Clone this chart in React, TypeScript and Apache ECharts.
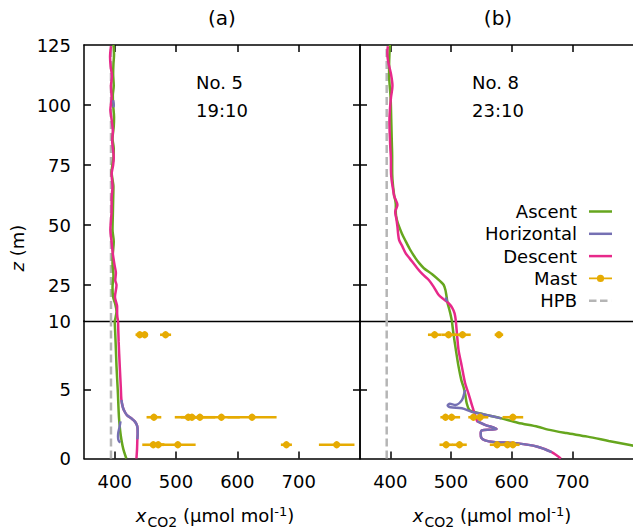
import React, { useEffect, useRef } from 'react';
import * as echarts from 'echarts';

type P = [number, number];
type M = [number, number, number];

// ---------- axis ticks ----------
const X_MIN = 350;
const X_MAX = 800;
const xTicks = [400, 500, 600, 700];
const zUpperTicks = [25, 50, 75, 100];
const zUpperLabels = [25, 50, 75, 100, 125];
const zLowerTicks = [5];
const zLowerLabels = [0, 5, 10];
const seriesNames = ['Ascent', 'Horizontal', 'Descent', 'Mast', 'HPB'];
const hpbValue = 394;

// ---------- panel (a): flight No. 5, 19:10 ----------
const ascentAUp: P[] = [[398,125],[399,121],[398,117],[397.5,113],[398.5,108],[397,104],[397.5,100],[399,95],[398.5,91],[396.5,86],[398.5,82],[398,78],[395,72],[396.5,69],[398,66],[397.5,60],[397,54],[396.5,48],[398.5,43],[397,38],[396.5,34],[398,29],[396.5,24],[397.5,20],[401,17],[403,14],[401.5,11.5],[400,10]];
const descentAUp: P[] = [[394,124.5],[392.5,120],[393.5,116],[395.5,112],[394,108],[395,103],[393,98],[395,94],[397,89],[396,85],[398.5,78],[397.5,75],[395,71],[396.5,66],[395,61],[395,56],[394,52],[393,48],[395,43],[397,38],[400,33],[402,30],[401,27],[403,25],[400.5,20],[404,16],[404,13],[405.5,10]];
const horizAUp: P[] = [[397.5,102],[398.5,100],[398,99]];
const ascentALow: P[] = [[400,10],[401.5,8.5],[403,6.7],[405,5],[407,3],[409,2],[411,1.36],[414,0.7],[419,0]];
const descentALow: P[] = [[405.5,10],[406.5,8.5],[408.3,6.7],[410,5.2],[411,4.25],[413.5,3.7],[416.4,3.4],[420,3.15],[424.6,3.0],[429,2.85],[432.7,2.7],[436,2.45],[437.3,2.2],[437.5,1.8],[437,1.4],[436.5,0.7],[435.5,0]];
const horizALow1: P[] = [[411,4.25],[413.5,3.7],[416.4,3.4],[420,3.15],[424.6,3.0],[429,2.85],[432.7,2.7],[436,2.45],[437.3,2.2],[437.5,1.8],[437,1.4]];
const horizALow2: P[] = [[409.5,2.7],[408,2.3],[406,1.9],[405.5,1.6],[406.5,1.3],[409,1.15]];
// mast: [value, height, error]
const mastA: M[] = [[441,9,7],[449,9,5],[483,9,9],[464,3,12],[520,3,22],[526,3,18],[539,3,25],[574,3,30],[624,3,40],[463,1,18],[471,1,10],[503,1,29],[680,1,9],[762,1,29]];

// ---------- panel (b): flight No. 8, 23:10 ----------
const ascentBUp: P[] = [[399.5,125],[398.5,121],[398,117],[398,112],[399,108],[400.5,103],[401,99],[401.5,94],[402,89],[402.5,84],[403,79],[403,74],[403.5,69],[406,63],[409,58.5],[409,55],[411,52],[414.5,49.3],[419,46.5],[424.3,43.75],[432,40],[441.7,36.1],[448,34],[455.3,32],[469,29.5],[482.5,26.5],[488,25],[490.7,23],[492.3,20.8],[494.4,17.4],[497,15],[498.8,13.2],[501.5,10]];
const descentBUp: P[] = [[396,124.5],[395,122],[396.5,118],[401,113],[403.5,108],[401,103],[399.3,98],[398.5,93],[399,88],[400,82],[401,77],[401,73],[402,69],[405,64],[406.3,62],[411.7,58.3],[408,55.5],[410,52.5],[411.7,49.3],[413,46],[414.5,43.75],[420,41],[425.4,38.2],[431.9,36.1],[444.4,32],[453,29.5],[463.4,27.1],[472,24],[479.8,20.8],[488,19],[496,17.4],[502,15.5],[505.9,13.2],[508,10]];
const horizBUp: P[] = [[491.5,19.8],[493.4,18.2]];
const ascentBLow: P[] = [[501.5,10],[504,9.1],[508,7.9],[512.4,6.7],[517,5.7],[520.6,5.2],[523.3,4.7],[526,4.0],[530,3.55],[537,3.4],[560,3.15],[583,2.92],[610,2.6],[643,2.31],[660,2.1],[690,1.85],[725,1.59],[760,1.28],[795,0.98],[810,0.85]];
const descentBLow: P[] = [[508,10],[510,9],[512.4,7.9],[517.8,6.7],[523.3,5.47],[528.7,4.74],[533,4.1],[537,3.53],[542.4,2.8],[543,2.72],[556,2.45],[575,2.15],[565,2.1],[551,2.05],[549,1.8],[550,1.5],[556,1.32],[570,1.2],[610,1.1],[642.6,0.86],[666,0.47],[681,0]];
const horizBLow1: P[] = [[523,4.98],[518,4.25],[507,3.9],[498,3.98],[494.5,3.85],[499,3.72],[518,3.65],[534,3.4],[560,3.15],[583,2.92]];
const horizBLow2: P[] = [[543,2.72],[556,2.45],[575,2.15],[565,2.1],[551,2.05],[549,1.8],[550,1.5],[556,1.32],[570,1.2],[610,1.1],[642.6,0.86],[666,0.47]];
const mastB: M[] = [[473,9,11],[496,9,12],[519,9,13.5],[579,9,7],[491,3,8.5],[501,3,14],[537,3,8.5],[548,3,13.5],[602,3,17],[492,1,11],[514,1,12],[576,1,12],[593,1,10],[602,1,11]];

// HPB reference profile
const hpbUp: P[] = [[hpbValue,10],[hpbValue,125]];
const hpbLow: P[] = [[hpbValue,0],[hpbValue,10]];

const FONT = "'DejaVu Sans', sans-serif";
const C_ASC = '#66a61e';
const C_HOR = '#7570b3';
const C_DES = '#e7298a';
const C_MAST = '#e6ab02';
const C_HPB = '#b5b5b5';
const AXIS = '#000';

const ICON_LINE = 'path://M0,0 L23,0 L23,2.5 L0,2.5 Z';
const ICON_MAST = 'path://M0,2.6 L23,2.6 L23,4.4 L0,4.4 Z M15.1,3.5 A3.6,3.6 0 1 1 7.9,3.5 A3.6,3.6 0 1 1 15.1,3.5 Z';
const ICON_DASH = 'path://M0,0 L7.5,0 L7.5,2.5 L0,2.5 Z M11,0 L18.5,0 L18.5,2.5 L11,2.5 Z M22.95,0 L23,0 L23,2.5 L22.95,2.5 Z';

export default function App() {
  const ref = useRef<HTMLDivElement>(null);
  useEffect(() => {
    const chart = echarts.init(ref.current!, null, { renderer: 'svg' });
    const PA = 84, PB = 360, PW = 276, TOP = 45, UH = 276, LH = 137.5;
    const grid = [
      { left: PA, top: TOP, width: PW, height: UH },
      { left: PA, top: TOP + UH, width: PW, height: LH },
      { left: PB, top: TOP, width: PW, height: UH },
      { left: PB, top: TOP + UH, width: PW, height: LH },
    ];
    const axLine = (w = 1.5) => ({ show: true, onZero: false, lineStyle: { color: AXIS, width: w } });
    const tickIn = (vals: number[]) => ({ show: true, inside: true, length: 7, customValues: vals, lineStyle: { color: AXIS, width: 1.5 } });
    const noTick = { show: false };
    const noLabel = { show: false };
    const lbl = (vals: number[], margin: number) => ({ show: true, customValues: vals, fontFamily: FONT, fontSize: 18, color: '#000', margin });
    const xAx = (gridIndex: number, position: string, o: any) => ({
      type: 'value', gridIndex, position, min: X_MIN, max: X_MAX,
      splitLine: { show: false }, axisLine: axLine(), axisTick: noTick, axisLabel: noLabel, ...o,
    });
    const yAx = (gridIndex: number, position: string, min: number, max: number, o: any) => ({
      type: 'value', gridIndex, position, min, max,
      splitLine: { show: false }, axisLine: axLine(), axisTick: noTick, axisLabel: noLabel, ...o,
    });
    const xAxis = [
      xAx(0, 'top', { axisTick: tickIn(xTicks) }),
      xAx(1, 'bottom', { axisTick: tickIn(xTicks), axisLabel: lbl(xTicks, 14) }),
      xAx(1, 'top', { axisLine: axLine(1.3) }),
      xAx(2, 'top', { axisTick: tickIn(xTicks) }),
      xAx(3, 'bottom', { axisTick: tickIn(xTicks), axisLabel: lbl(xTicks, 14) }),
      xAx(3, 'top', { axisLine: axLine(1.3) }),
    ];
    const yAxis = [
      yAx(0, 'left', 10, 125, { axisTick: tickIn(zUpperTicks), axisLabel: lbl(zUpperLabels, 13) }),
      yAx(0, 'right', 10, 125, { axisTick: tickIn(zUpperTicks) }),
      yAx(1, 'left', 0, 10, { axisTick: tickIn(zLowerTicks), axisLabel: lbl(zLowerLabels, 13) }),
      yAx(1, 'right', 0, 10, { axisTick: tickIn(zLowerTicks) }),
      yAx(2, 'left', 10, 125, { axisTick: tickIn(zUpperTicks) }),
      yAx(3, 'left', 0, 10, { axisTick: tickIn(zLowerTicks) }),
    ];
    const ln = (name: string, data: P[], xi: number, yi: number, color: string, z: number, extra: any = {}) => ({
      type: 'line', name, data, xAxisIndex: xi, yAxisIndex: yi, symbol: 'none', showSymbol: false,
      smooth: 0.3, lineStyle: { color, width: 2.5 }, itemStyle: { color }, z, ...extra,
    });
    const hpbStyle = { smooth: false, lineStyle: { color: C_HPB, width: 2.5, type: [8, 4] } };
    const mast = (data: M[], xi: number, yi: number) => ({
      type: 'custom', name: 'Mast', data, xAxisIndex: xi, yAxisIndex: yi, z: 5,
      itemStyle: { color: C_MAST }, encode: { x: 0, y: 1 },
      renderItem: (_p: any, api: any) => {
        const x = api.value(0), zv = api.value(1), e = api.value(2);
        const a = api.coord([x - e, zv]);
        const b = api.coord([x + e, zv]);
        const c = api.coord([x, zv]);
        return {
          type: 'group',
          children: [
            { type: 'line', shape: { x1: a[0], y1: a[1], x2: b[0], y2: b[1] }, style: { stroke: C_MAST, lineWidth: 2.6 } },
            { type: 'circle', shape: { cx: c[0], cy: c[1], r: 3.6 }, style: { fill: C_MAST } },
          ],
        };
      },
    });
    const [nAsc, nHor, nDes, nMast, nHpb] = seriesNames;
    const series = [
      // panel a upper
      ln(nHpb, hpbUp, 0, 0, C_HPB, 1, hpbStyle),
      ln(nAsc, ascentAUp, 0, 0, C_ASC, 2),
      ln(nDes, descentAUp, 0, 0, C_DES, 3),
      ln(nHor, horizAUp, 0, 0, C_HOR, 4),
      // panel a lower
      ln(nHpb, hpbLow, 1, 2, C_HPB, 1, hpbStyle),
      ln(nAsc, ascentALow, 1, 2, C_ASC, 2),
      ln(nDes, descentALow, 1, 2, C_DES, 3),
      ln(nHor, horizALow1, 1, 2, C_HOR, 4),
      ln(nHor, horizALow2, 1, 2, C_HOR, 4),
      mast(mastA, 1, 2),
      // panel b upper
      ln(nHpb, hpbUp, 3, 4, C_HPB, 1, hpbStyle),
      ln(nAsc, ascentBUp, 3, 4, C_ASC, 2),
      ln(nDes, descentBUp, 3, 4, C_DES, 3),
      ln(nHor, horizBUp, 3, 4, C_HOR, 4),
      // panel b lower
      ln(nHpb, hpbLow, 4, 5, C_HPB, 1, hpbStyle),
      ln(nAsc, ascentBLow, 4, 5, C_ASC, 2),
      ln(nDes, descentBLow, 4, 5, C_DES, 3),
      ln(nHor, horizBLow1, 4, 5, C_HOR, 4),
      ln(nHor, horizBLow2, 4, 5, C_HOR, 4),
      mast(mastB, 4, 5),
    ];
    const xName = (cx: number) => ({
      type: 'text', x: cx, y: 515.5,
      style: {
        text: '{i|x}{s|CO2}{n| (µmol mol}{p|-1}{n|)}',
        align: 'center', verticalAlign: 'middle', fill: '#000', fontFamily: FONT, fontSize: 18,
        rich: {
          i: { fontFamily: FONT, fontSize: 18, fontStyle: 'italic', fill: '#000' },
          s: { fontFamily: FONT, fontSize: 14, padding: [13, 0, 0, 1], fill: '#000' },
          n: { fontFamily: FONT, fontSize: 18, fill: '#000' },
          p: { fontFamily: FONT, fontSize: 13, padding: [0, 0, 8, 0], fill: '#000' },
        },
      },
    });
    const txt = (text: string, x: number, y: number, size = 18, align = 'left') => ({
      type: 'text', x, y, style: { text, fontFamily: FONT, fontSize: size, fill: '#000', align, verticalAlign: 'middle' },
    });
    chart.setOption({
      animation: false,
      grid,
      xAxis,
      yAxis,
      series,
      legend: {
        data: [
          { name: nAsc, icon: ICON_LINE },
          { name: nHor, icon: ICON_LINE },
          { name: nDes, icon: ICON_LINE },
          { name: nMast, icon: ICON_MAST },
          { name: nHpb, icon: ICON_DASH },
        ],
        orient: 'vertical', align: 'right', right: 21, top: 202.5, padding: 0,
        itemWidth: 23, itemHeight: 14, itemGap: 4.3, selectedMode: false,
        itemStyle: { borderWidth: 0 },
        textStyle: { fontFamily: FONT, fontSize: 18, color: '#000', lineHeight: 18, padding: [0, 7, 0, 0] },
      },
      graphic: [
        txt('(a)', 222, 18, 20, 'center'),
        txt('(b)', 498, 18, 20, 'center'),
        txt('No. 5', 196, 82),
        txt('19:10', 196, 110),
        txt('No. 8', 472, 82),
        txt('23:10', 472, 110),
        xName(215),
        xName(492),
        {
          type: 'text', x: 17, y: 248, rotation: Math.PI / 2,
          style: {
            text: '{i|z}{n| (m)}', align: 'center', verticalAlign: 'middle', fill: '#000', fontFamily: FONT, fontSize: 18,
            rich: {
              i: { fontFamily: FONT, fontSize: 18, fontStyle: 'italic', fill: '#000' },
              n: { fontFamily: FONT, fontSize: 18, fill: '#000' },
            },
          },
        },
      ],
    });
    return () => chart.dispose();
  }, []);
  return <div ref={ref} style={{ position: 'absolute', left: 0, top: 0, width: 633, height: 530 }} />;
}
